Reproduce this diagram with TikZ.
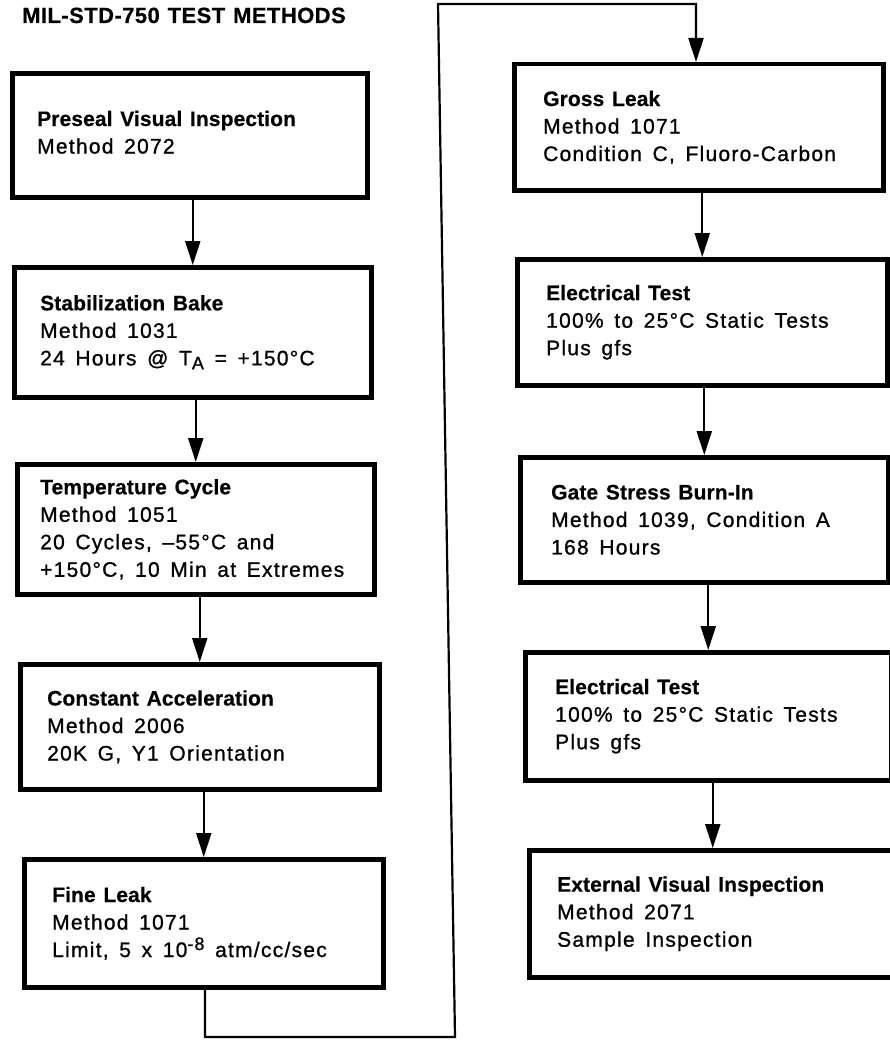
\documentclass[tikz,border=0pt]{standalone}
\usepackage{fontspec}
\setmainfont{Liberation Sans}
\newfontfamily\regf[LetterSpace=6,WordSpace=1.5,FakeBold=1.0]{Liberation Sans}
\newfontfamily\boldf[LetterSpace=0.5,WordSpace=1.3,FakeBold=0.5]{Liberation Sans Bold}
\newfontfamily\titlef[LetterSpace=2,WordSpace=1.2,FakeBold=0.5]{Liberation Sans Bold}
\usetikzlibrary{arrows.meta}
\newcommand{\subA}{\raisebox{-4pt}{\fontsize{18}{18}\selectfont A}}
\newcommand{\supm}{\raisebox{7pt}{\fontsize{18}{18}\selectfont -8}}
\begin{document}
\begin{tikzpicture}[x=1pt,y=-1pt,
  box/.style={draw, line width=4.5pt, anchor=north west, inner sep=0pt},
  txt/.style={anchor=west, align=left, inner sep=0pt, font=\fontsize{21}{27.5}\selectfont\regf},
  conn/.style={line width=2.2pt},
  arr/.style={conn, -{Triangle[length=24pt,width=15pt]}}
]
\useasboundingbox (0,0) rectangle (890,1041);
\clip (0,0) rectangle (890,1041);

\node[anchor=base west, inner sep=0pt, font=\fontsize{22}{26}\selectfont\titlef] (title) at (22,23) {MIL-STD-750 TEST METHODS};

% left column
\node[box, minimum width=355pt, minimum height=124pt] (b1) at (10,71) {};
\node[box, minimum width=357pt, minimum height=130pt] (b2) at (12,265) {};
\node[box, minimum width=357pt, minimum height=130pt] (b3) at (15,462) {};
\node[box, minimum width=359pt, minimum height=125pt] (b4) at (18,662) {};
\node[box, minimum width=359pt, minimum height=128pt] (b5) at (22,857) {};
% right column
\node[box, minimum width=369pt, minimum height=126pt] (b6) at (512,62) {};
\node[box, minimum width=370pt, minimum height=126pt] (b7) at (515,257) {};
\node[box, minimum width=368pt, minimum height=125pt] (b8) at (518,455) {};
\node[box, minimum width=366pt, minimum height=128pt] (b9) at (523,650) {};
\node[box, minimum width=367pt, minimum height=127pt] (b10) at (527,848) {};

\node[txt] (t1) at ([xshift=27pt,yshift=3pt]b1.west) {{\boldf Preseal Visual Inspection}\\Method 2072};
\node[txt] (t2) at ([xshift=28pt]b2.west) {{\boldf Stabilization Bake}\\Method 1031\\24 Hours @ T\subA\ = +150°C};
\node[txt] (t3) at ([xshift=25pt]b3.west) {{\boldf Temperature Cycle}\\Method 1051\\20 Cycles, –55°C and\\+150°C, 10 Min at Extremes};
\node[txt] (t4) at ([xshift=29pt]b4.west) {{\boldf Constant Acceleration}\\Method 2006\\20K G, Y1 Orientation};
\node[txt] (t5) at ([xshift=30pt]b5.west) {{\boldf Fine Leak}\\Method 1071\\Limit, 5 x 10\supm\ atm/cc/sec};
\node[txt] (t6) at ([xshift=31pt]b6.west) {{\boldf Gross Leak}\\Method 1071\\Condition C, Fluoro-Carbon};
\node[txt] (t7) at ([xshift=31pt]b7.west) {{\boldf Electrical Test}\\100\% to 25°C Static Tests\\Plus gfs};
\node[txt] (t8) at ([xshift=33pt]b8.west) {{\boldf Gate Stress Burn-In}\\Method 1039, Condition A\\168 Hours};
\node[txt] (t9) at ([xshift=32pt]b9.west) {{\boldf Electrical Test}\\100\% to 25°C Static Tests\\Plus gfs};
\node[txt] (t10) at ([xshift=30pt]b10.west) {{\boldf External Visual Inspection}\\Method 2071\\Sample Inspection};

\draw[arr] (b2.north |- b1.south) -- (b2.north);
\draw[arr] (b3.north |- b2.south) -- (b3.north);
\draw[arr] (b4.north |- b3.south) -- (b4.north);
\draw[arr] (b5.north |- b4.south) -- (b5.north);
\draw[arr] (b7.north |- b6.south) -- (b7.north);
\draw[arr] (b8.north |- b7.south) -- (b8.north);
\draw[arr] (b9.north |- b8.south) -- (b9.north);
\draw[arr] (b10.north |- b9.south) -- (b10.north);

\coordinate (c1) at (205,1037);
\coordinate (c2) at (455,1037);
\coordinate (c3) at (438,4);
\coordinate (c4) at (696,4);
\draw[arr] (b5.south -| c1) -- (c1) -- (c2) -- (c3) -- (c4) -- (b6.north -| c4);
\end{tikzpicture}
\end{document}
